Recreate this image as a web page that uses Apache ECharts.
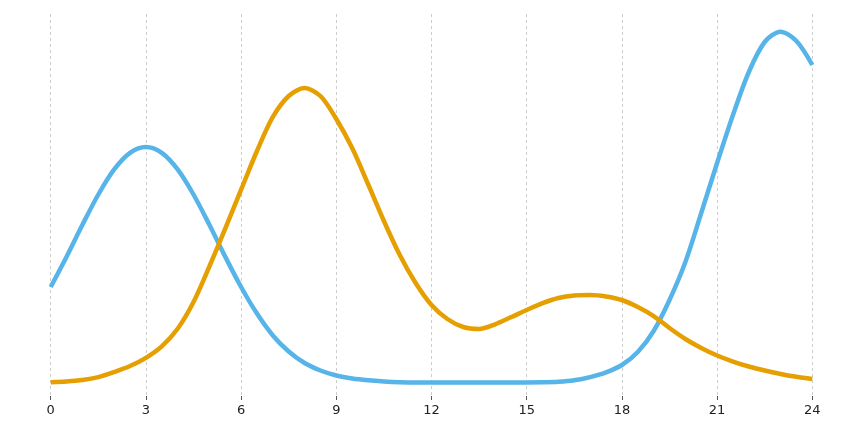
<!DOCTYPE html>
<html>
<head>
<meta charset="utf-8">
<script src="https://cdn.jsdelivr.net/npm/echarts@6/dist/echarts.min.js"></script>
<style>html,body{margin:0;padding:0;background:#fff}#c{width:860px;height:430px}</style>
</head>
<body>
<div id="c"></div>
<script>
const xs = [0,0.5,1,1.5,2,2.5,3,3.5,4,4.5,5,5.5,6,6.5,7,7.5,8,8.5,9,9.5,10,10.5,11,11.5,12,12.5,13,13.5,14,14.5,15,15.5,16,16.5,17,17.5,18,18.5,19,19.5,20,20.5,21,21.5,22,22.5,23,23.5,24];
const blueVals = [28.53,36.46,44.82,52.75,59.32,63.66,65.18,63.66,59.32,52.75,44.82,36.46,28.53,21.57,15.84,11.65,8.64,6.68,5.37,4.58,4.11,3.80,3.61,3.53,3.53,3.53,3.53,3.53,3.53,3.53,3.53,3.57,3.70,4.10,4.95,6.20,8.12,11.52,17.02,25.13,35.08,47.91,60.99,73.56,84.82,92.67,95.37,92.93,86.65];
const orangeVals = [3.59,3.80,4.19,4.95,6.28,7.85,10.0,13.0,17.6,24.6,33.9,43.8,54.0,64.14,73.04,78.53,80.63,78.53,72.51,64.92,55.50,45.81,36.9,29.58,23.82,20.16,18.06,17.54,18.75,20.60,22.51,24.30,25.65,26.31,26.44,26.05,25.13,23.30,20.94,17.80,14.92,12.57,10.60,9.03,7.72,6.68,5.76,5.03,4.45];
const xTicks = [0,3,6,9,12,15,18,21,24];

const chart = echarts.init(document.getElementById('c'), null, {renderer:'canvas'});
const pairs = v => xs.map((x,i)=>[x,v[i]]);
chart.setOption({
  animation:false,
  backgroundColor:'#ffffff',
  grid:{left:50.7,right:47.7,top:14,bottom:34},
  xAxis:{
    type:'value',min:0,max:24,interval:3,
    axisLine:{show:false},
    axisTick:{show:true,length:4,lineStyle:{color:'#555',width:1}},
    axisLabel:{color:'#222',fontSize:13,fontFamily:'DejaVu Sans',margin:8,
      formatter:v=>xTicks.includes(v)?String(v):''},
    splitLine:{show:true,lineStyle:{color:'#cccccc',type:[3,3],width:1}}
  },
  yAxis:{type:'value',min:0,max:100,show:false,splitLine:{show:false}},
  series:[
    {type:'line',data:pairs(blueVals),smooth:0.3,symbol:'none',
      lineStyle:{color:'#56B4E9',width:4.5,cap:'butt',join:'round'}},
    {type:'line',data:pairs(orangeVals),smooth:0.3,symbol:'none',
      lineStyle:{color:'#E69F00',width:4.5,cap:'butt',join:'round'}}
  ]
});
</script>
</body>
</html>
